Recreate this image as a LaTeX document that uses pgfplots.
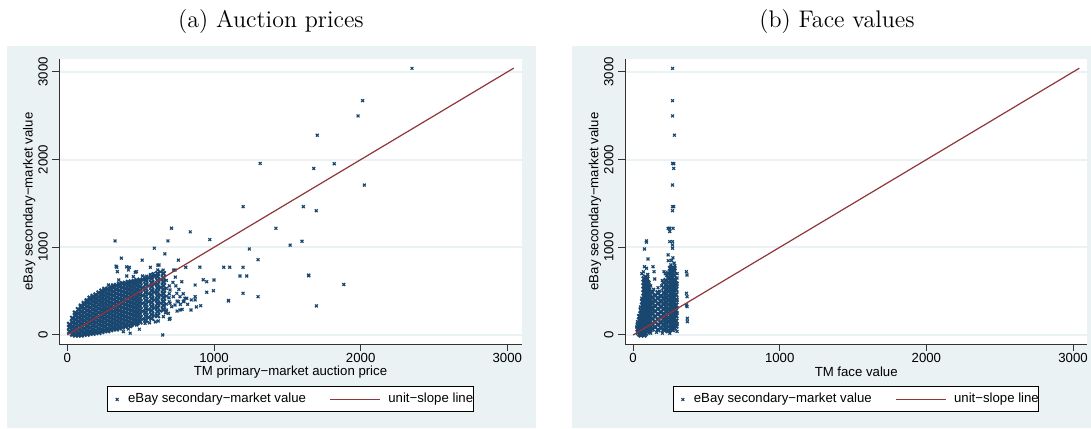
\documentclass[border=0pt]{standalone}
\usepackage{fontspec}
\setsansfont{Liberation Sans}
\usepackage{pgfplots}
\pgfplotsset{compat=1.18}
\definecolor{stnavy}{RGB}{26,71,111}
\definecolor{stmaroon}{RGB}{144,53,59}
\definecolor{stbg}{RGB}{234,242,243}
\newcommand{\lab}{\sffamily\fontsize{6.6}{7.6}\selectfont}
\pgfplotsset{
  stata/.style={
    scale only axis, width=231.2pt, height=142.5pt,
    xmin=-55, xmax=3098, ymin=-103, ymax=3148,
    xtick={0,1000,2000,3000}, ytick={0,1000,2000,3000},
    axis x line*=bottom, axis y line*=left,
    axis line style={-, black!80, line width=0.5pt},
    tick align=outside, major tick length=3.5pt,
    tick style={black!80, line width=0.5pt},
    ymajorgrids, grid style={stbg, line width=1pt},
    axis background/.style={fill=white},
    clip marker paths=true,
    /pgf/number format/assume math mode=true,
    /pgf/number format/1000 sep={},
    xticklabel={\lab\pgfmathprintnumber[assume math mode=true,1000 sep={}]{\tick}},
    yticklabel={\lab\pgfmathprintnumber[assume math mode=true,1000 sep={}]{\tick}},
    xticklabel style={anchor=north, inner sep=0pt, yshift=-1pt},
    yticklabel style={xshift=-2.3pt, rotate=90, anchor=base, inner sep=0pt},
    every axis x label/.style={at={(axis description cs:0.5,-0.0982)}, anchor=center, font=\lab},
    every axis y label/.style={at={(axis description cs:-0.0649,0.5)}, rotate=90, anchor=center, font=\lab},
    ylabel={eBay secondary−market value},
    legend columns=2,
    legend style={at={(axis description cs:0.5,-0.1947)}, anchor=center, draw=black, line width=0.5pt, fill=white,
      inner xsep=0pt, inner ysep=3.15pt, font=\lab,
      nodes={inner sep=0pt, text height=4.8pt, text depth=1.4pt},
      /tikz/every even column/.append style={column sep=11.85pt}},
  },
  scat/.style={only marks, mark=x, mark size=1pt, color=stnavy, line width=0.6pt,
    legend image code/.code={\draw[only marks] plot coordinates {(4.65pt,0pt)}; \path[draw=none] (0pt,0pt) -- (10.15pt,0pt);}},
  dense/.style={only marks, mark=x, mark size=1.6pt, color=stnavy, line width=1pt, forget plot},
  unit/.style={no marks, color=stmaroon, line width=0.6pt,
    legend image code/.code={\draw (0pt,0pt) -- (25pt,0pt); \path[draw=none] (0pt,0pt) -- (29pt,0pt);}},
}
\begin{document}
\begin{tikzpicture}
\useasboundingbox (0,0) rectangle (545.5pt,214pt);
\fill[stbg] (3.5pt,0pt) rectangle (267.85pt,191pt);
\fill[stbg] (286.15pt,0pt) rectangle (545.5pt,191pt);
\node[font=\fontsize{12}{14}\selectfont, anchor=base] at (135.5pt,200.4pt) {(a) Auction prices};
\node[font=\fontsize{12}{14}\selectfont, anchor=base] at (418.5pt,200.4pt) {(b) Face values};

\begin{axis}[stata, at={(29.65pt,42pt)}, anchor=south west, xlabel={TM primary−market auction price}]
\addplot[dense] coordinates {
(15,40)(15,85)(15,120)
(35,10)(35,55)(35,100)(35,145)(35,190)
(55,0)(55,45)(55,90)(55,135)(55,180)(55,225)(55,250)
(75,0)(75,22)(75,67)(75,112)(75,157)(75,202)(75,247)(75,290)
(95,0)(95,45)(95,90)(95,135)(95,180)(95,225)(95,270)(95,315)(95,330)
(115,10)(115,32)(115,77)(115,122)(115,167)(115,212)(115,257)(115,302)(115,347)(115,360)
(135,10)(135,55)(135,100)(135,145)(135,190)(135,235)(135,280)(135,325)(135,370)(135,390)
(155,20)(155,42)(155,87)(155,132)(155,177)(155,222)(155,267)(155,312)(155,357)(155,402)(155,420)
(175,20)(175,65)(175,110)(175,155)(175,200)(175,245)(175,290)(175,335)(175,380)(175,425)(175,440)
(195,30)(195,52)(195,97)(195,142)(195,187)(195,232)(195,277)(195,322)(195,367)(195,412)(195,457)
(215,30)(215,75)(215,120)(215,165)(215,210)(215,255)(215,300)(215,345)(215,390)(215,435)(215,480)
(235,40)(235,62)(235,107)(235,152)(235,197)(235,242)(235,287)(235,332)(235,377)(235,422)(235,467)(235,500)
(255,50)(255,95)(255,140)(255,185)(255,230)(255,275)(255,320)(255,365)(255,410)(255,455)(255,500)(255,520)
(275,50)(275,72)(275,117)(275,162)(275,207)(275,252)(275,297)(275,342)(275,387)(275,432)(275,477)(275,522)
(295,60)(295,105)(295,150)(295,195)(295,240)(295,285)(295,330)(295,375)(295,420)(295,465)(295,510)(295,545)
(315,70)(315,92)(315,137)(315,182)(315,227)(315,272)(315,317)(315,362)(315,407)(315,452)(315,497)(315,542)(315,560)
(335,70)(335,115)(335,160)(335,205)(335,250)(335,295)(335,340)(335,385)(335,430)(335,475)(335,520)(335,565)
(355,80)(355,102)(355,147)(355,192)(355,237)(355,282)(355,327)(355,372)(355,417)(355,462)(355,507)(355,552)(355,580)
(375,90)(375,135)(375,180)(375,225)(375,270)(375,315)(375,360)(375,405)(375,450)(375,495)(375,540)(375,585)
(395,100)(395,122)(395,167)(395,212)(395,257)(395,302)(395,347)(395,392)(395,437)(395,482)(395,527)(395,572)(395,590)
(415,110)(415,155)(415,200)(415,245)(415,290)(415,335)(415,380)(415,425)(415,470)(415,515)(415,560)(415,600)
(435,120)(435,142)(435,187)(435,232)(435,277)(435,322)(435,367)(435,412)(435,457)(435,502)(435,547)(435,592)(435,605)
(455,130)(455,175)(455,220)(455,265)(455,310)(455,355)(455,400)(455,445)(455,490)(455,535)(455,580)(455,610)
(475,140)(475,162)(475,207)(475,252)(475,297)(475,342)(475,387)(475,432)(475,477)(475,522)(475,567)(475,612)(475,620)
(495,150)(495,195)(495,240)(495,285)(495,330)(495,375)(495,420)(495,465)(495,510)(495,555)(495,600)(495,625)
(535,170)(535,215)(535,260)(535,305)(535,350)(535,395)(535,440)(535,485)(535,530)(535,575)(535,620)(535,645)
(575,190)(575,235)(575,280)(575,325)(575,370)(575,415)(575,460)(575,505)(575,550)(575,595)(575,640)(575,670)
(615,220)(615,265)(615,310)(615,355)(615,400)(615,445)(615,490)(615,535)(615,580)(615,625)(615,670)(615,700)
(655,290)(655,335)(655,380)(655,425)(655,470)(655,515)(655,560)(655,605)(655,650)(655,700)
};
\addplot[scat] coordinates {
(515,182)(515,272)(515,362)(515,452)(515,542)(515,632)
(555,202)(555,292)(555,382)(555,472)(555,562)(555,652)
(595,222)(595,312)(595,402)(595,492)(595,582)(595,672)
(635,272)(635,362)(635,452)(635,542)(635,632)(635,720)
(675,352)(675,442)(675,532)(675,622)
(695,380)(695,470)(695,560)
(325,1073)(368,876)(510,853)(593,990)(665,925)(686,1073)(710,1217)(757,853)(838,1176)(904,774)(971,1088)(625,798)
(566,772)(807,772)(1066,772)(1107,772)(1198,772)(734,741)(1177,673)(1223,673)(1646,676)(1000,627)(927,630)(950,608)
(780,608)(871,570)(996,505)(950,487)(1198,475)(1300,437)(1098,388)(1698,331)(909,334)(843,285)(802,418)(871,437)
(871,400)(650,0)(416,68)(428,20)(491,65)(432,95)(1241,981)(1300,859)(1099,394)(1199,1464)(1609,1464)(1697,1418)
(1422,1217)(1519,1024)(1600,1069)(1645,683)(1885,576)(2350,3041)(2013,2673)(1982,2499)(1704,2279)(1315,1957)
(1680,1900)(1820,1953)(2025,1710)
(280,570)(337,772)(341,722)(416,741)(423,772)(471,722)(512,673)(566,690)(616,741)(350,627)(405,673)(450,665)
(541,670)(586,700)(700,513)(723,437)(700,361)(677,285)(746,475)(768,437)(757,380)(734,342)(711,323)(700,190)
(689,247)(768,285)(791,380)(814,418)(655,209)(359,95)(473,114)(530,133)(382,38)(332,785)(404,777)(463,716)
(617,796)(653,739)(724,739)(736,660)(693,425)(696,178)(669,254)(748,387)(771,349)(783,292)(795,387)(748,273)
(720,600)(740,560)(760,520)(790,470)(820,350)(845,400)(880,320)(620,160)(600,150)(560,140)
};
\addlegendentry{eBay secondary−market value}
\addplot[unit] coordinates {(0,0)(3043,3043)};
\addlegendentry{unit−slope line\hspace{2.15pt}}
\end{axis}

\begin{axis}[stata, at={(312.5pt,42pt)}, anchor=south west, xlabel={TM face value}]
\addplot[dense] coordinates {
(35,30)(35,70)(35,110)
(45,10)(45,50)(45,90)(45,130)(45,170)(45,210)
(55,0)(55,40)(55,80)(55,120)(55,160)(55,200)(55,240)(55,280)
(65,20)(65,60)(65,100)(65,140)(65,180)(65,220)(65,260)(65,300)(65,340)(65,380)
(75,0)(75,40)(75,80)(75,120)(75,160)(75,200)(75,240)(75,280)(75,320)(75,360)(75,400)(75,440)(75,480)(75,520)(75,560)(75,600)(75,640)
(85,20)(85,60)(85,100)(85,140)(85,180)(85,220)(85,260)(85,300)(85,340)(85,380)(85,420)(85,460)(85,500)(85,540)(85,580)(85,620)(85,660)
(95,40)(95,80)(95,120)(95,160)(95,200)(95,240)(95,280)(95,320)(95,360)(95,400)(95,440)(95,480)(95,520)(95,560)(95,600)(95,640)
(105,50)(105,100)(105,150)(105,200)(105,250)(105,300)(105,350)(105,400)(105,450)(105,500)(105,550)
(115,60)(115,110)(115,160)(115,210)(115,260)(115,310)(115,360)(115,410)(115,460)
(130,70)(130,130)(130,190)(130,250)(130,310)(130,370)(130,430)(130,490)
(150,90)(150,150)(150,210)(150,270)(150,330)(150,390)(150,450)
(170,60)(170,120)(170,180)(170,240)(170,300)(170,360)(170,420)(170,480)
(190,80)(190,140)(190,200)(190,260)(190,320)(190,380)(190,440)
(210,60)(210,120)(210,180)(210,240)(210,300)(210,360)(210,420)(210,480)(210,540)(210,600)
(225,70)(225,120)(225,170)(225,220)(225,270)(225,320)(225,370)(225,420)(225,470)(225,520)(225,570)(225,620)
(240,50)(240,100)(240,150)(240,200)(240,250)(240,300)(240,350)(240,400)(240,450)(240,500)(240,550)(240,600)(240,650)(240,700)
(255,70)(255,120)(255,170)(255,220)(255,270)(255,320)(255,370)(255,420)(255,470)(255,520)(255,570)(255,620)(255,670)(255,720)(255,760)
(268,60)(268,110)(268,160)(268,210)(268,260)(268,310)(268,360)(268,410)(268,460)(268,510)(268,560)(268,610)(268,660)(268,710)(268,760)
(280,80)(280,130)(280,180)(280,230)(280,280)(280,330)(280,380)(280,430)(280,480)(280,530)(280,580)(280,630)(280,680)(280,730)
(292,100)(292,160)(292,220)(292,280)(292,340)(292,400)(292,460)(292,520)(292,580)
};
\addplot[scat] coordinates {
(78,981)(91,1073)(91,1058)(102,867)(78,779)(91,761)(136,779)(143,722)(148,639)(211,722)(239,913)(240,848)
(364,722)(368,684)(364,475)(368,437)(364,342)(368,323)(370,190)(370,152)(269,3041)(269,2673)(269,2499)(282,2279)
(269,1957)(277,1953)(277,1900)(269,1710)(269,1464)(277,1464)(269,1418)(239,1217)(250,1217)(273,1217)(250,1180)
(250,1065)(269,1065)(269,1027)(269,990)(262,850)(272,880)(258,800)(280,820)(285,790)(60,700)(70,720)(110,600)
(120,560)(100,690)(195,560)(200,620)(170,540)(140,520)(300,650)(300,700)(300,590)(230,680)(220,700)(25,90)
(30,150)(50,320)(120,20)(160,30)(200,20)(250,20)(300,40)(300,120)(300,250)(300,400)(290,620)(285,760)(60,420)
(110,520)(180,500)
};
\addlegendentry{eBay secondary−market value}
\addplot[unit] coordinates {(0,0)(3043,3043)};
\addlegendentry{unit−slope line\hspace{2.15pt}}
\end{axis}
\end{tikzpicture}
\end{document}
